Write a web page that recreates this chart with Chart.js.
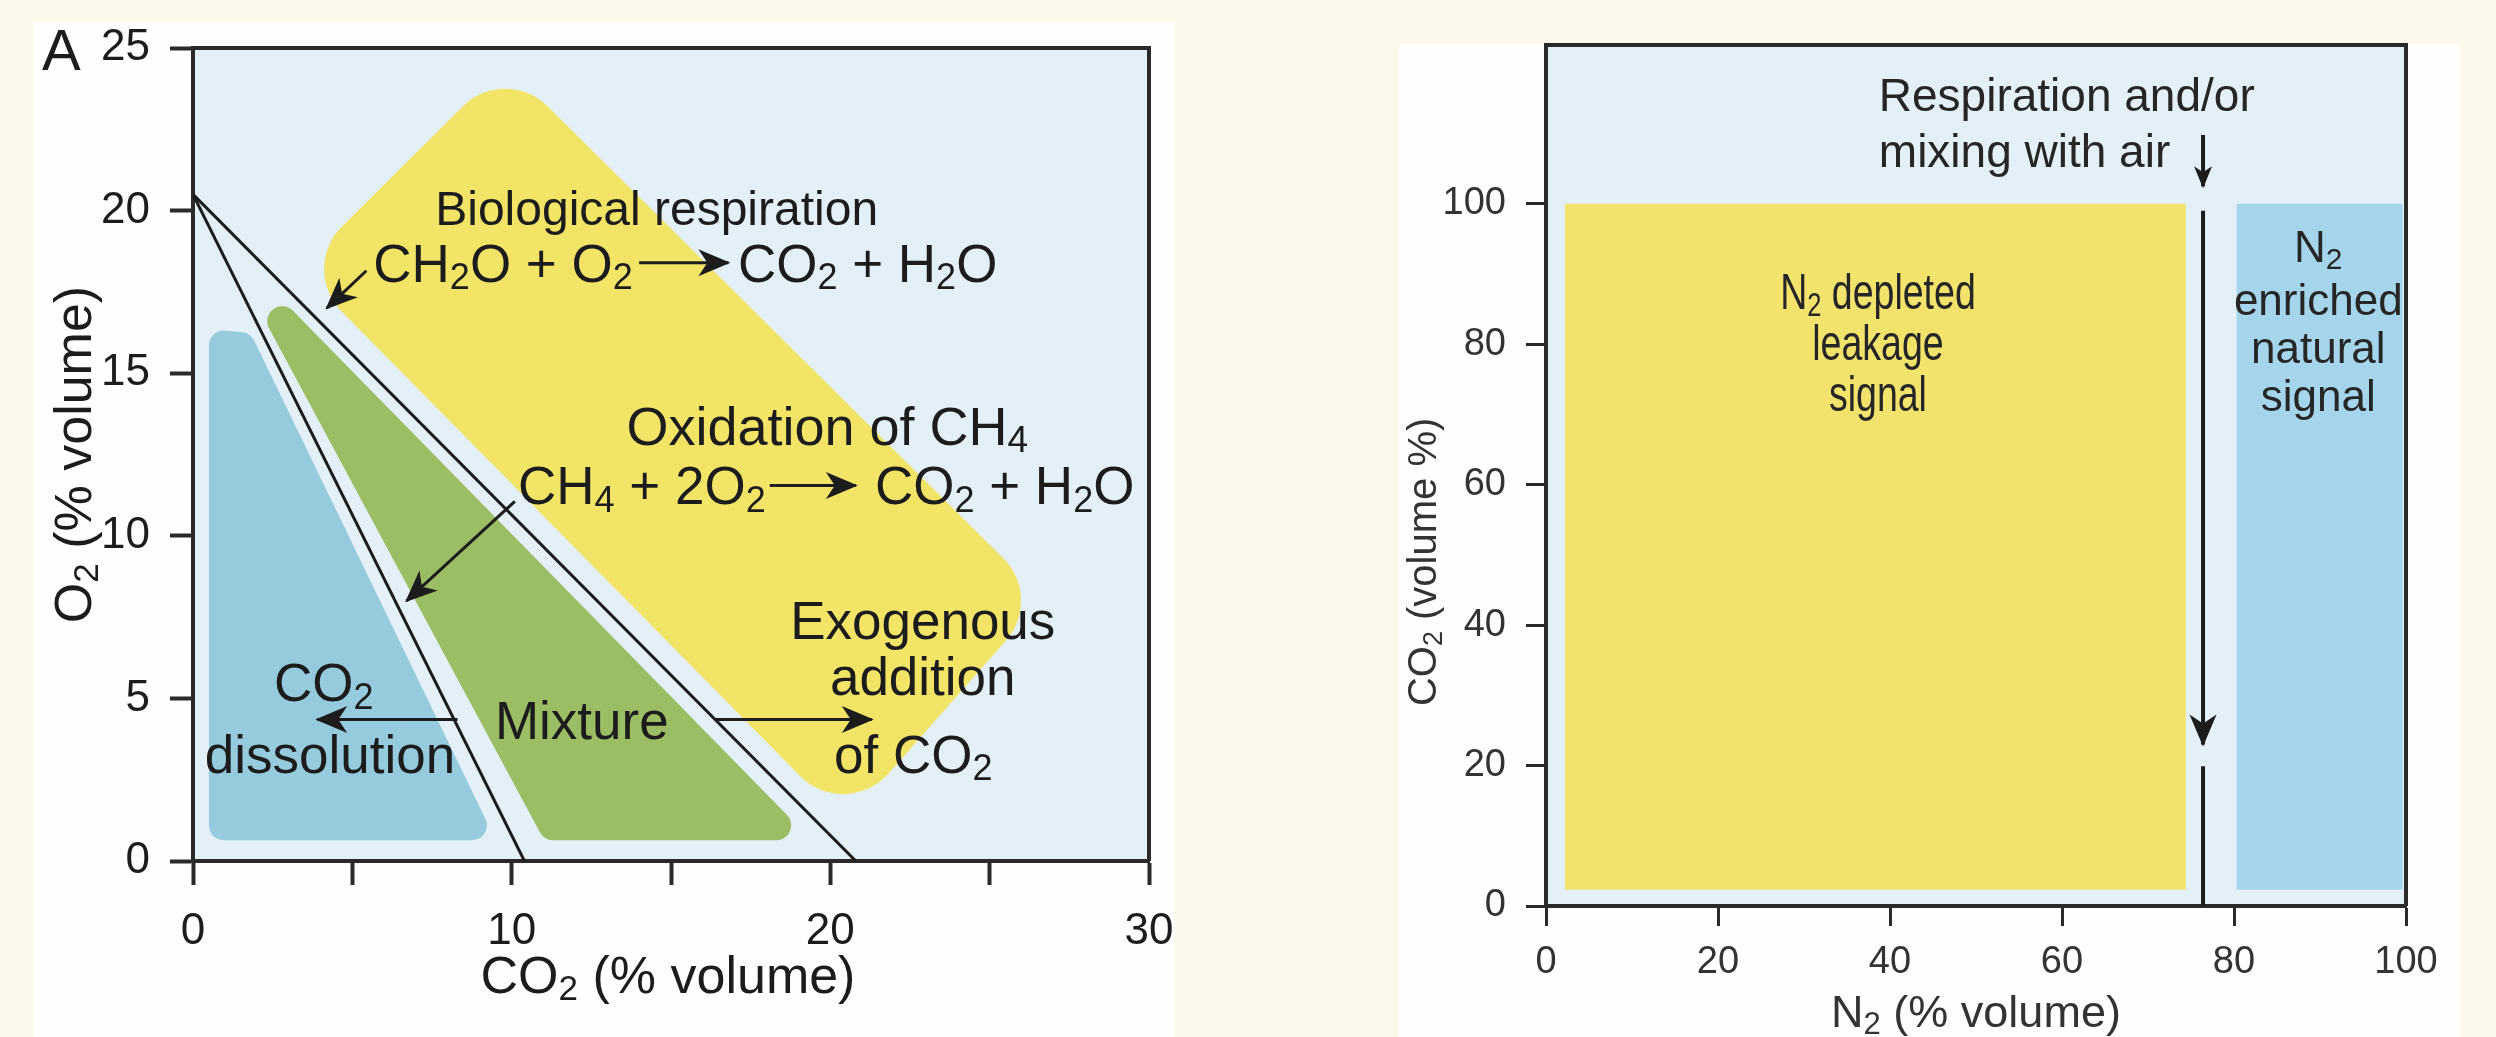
<!DOCTYPE html>
<html>
<head>
<meta charset="utf-8" />
<title>CO2 / O2 / N2 gas ratio diagrams</title>
<style>
  html, body { margin: 0; padding: 0; background: #fdf8ec; }
  body { width: 2496px; height: 1037px; position: relative; overflow: hidden; }
  .panel { position: absolute; background: #fefefd; }
  #panelA { left: 33px; top: 23px; width: 1142px; height: 1014px; }
  #panelB { left: 1399px; top: 44px; width: 1061px; height: 993px; }
  canvas { position: absolute; display: block; }
  #chartA { left: 33px; top: 23px; }
  #chartB { left: 1399px; top: 40px; }
</style>
</head>
<body>

<div class="panel" id="panelA"></div>
<div class="panel" id="panelB"></div>
<canvas id="chartA" width="1142" height="1014"></canvas>
<canvas id="chartB" width="1061" height="997"></canvas>

<script src="https://cdn.jsdelivr.net/npm/chart.js"></script>
<script>
// ---------- Panel A : O2 against CO2 ----------
const co2Range = [0, 30];
const o2Range = [0, 25];

// straight lines from air composition down to the CO2 axis
const dissolutionLine = [[0, 20.5], [10.4, 0]];
const respirationLine = [[0, 20.5], [20.8, 0]];

// corner points of the three fields (corners get rounded by a thick border)
const dissolutionField = [[0.97, 1.1], [0.97, 15.85], [1.5, 15.8], [8.75, 1.1]];
const mixtureField = [[2.8, 16.6], [18.3, 1.1], [11.3, 1.1]];
const exogenousField = [[6.0, 18.2], [9.8, 21.9], [24.1, 8.0], [20.4, 3.9]];

// process arrows, start -> end
const arrowsA = [
  [[5.44, 18.15], [4.2, 17.0]],
  [[10.1, 11.06], [6.7, 8.0]],
  [[8.3, 4.35], [3.9, 4.35]],
  [[16.4, 4.35], [21.3, 4.35]],
  [[14.0, 18.4], [16.8, 18.4]],
  [[18.1, 11.55], [20.8, 11.55]]
];

// text, "_" marks the following character as a subscript
const labelsA = [
  { text: 'Biological respiration', x: 14.55, y: 20.1, size: 48 },
  { text: 'CH_2O + O_2', x: 13.8, y: 18.4, align: 'right' },
  { text: 'CO_2 + H_2O', x: 17.1, y: 18.4, align: 'left' },
  { text: 'Oxidation of CH_4', x: 13.6, y: 13.4, align: 'left', size: 54 },
  { text: 'CH_4 + 2O_2', x: 10.2, y: 11.55, align: 'left' },
  { text: 'CO_2 + H_2O', x: 21.4, y: 11.55, align: 'left' },
  { text: 'Exogenous', x: 22.9, y: 7.4 },
  { text: 'addition', x: 22.9, y: 5.7 },
  { text: 'of CO_2', x: 22.6, y: 3.3 },
  { text: 'Mixture', x: 12.2, y: 4.35 },
  { text: 'CO_2', x: 4.1, y: 5.5 },
  { text: 'dissolution', x: 4.3, y: 3.3 }
];

// ---------- Panel B : CO2 against N2 ----------
const n2Range = [0, 100];
const co2RangeB = [0, 122.6];

const leakageField = [[2.2, 2.3], [2.2, 100], [74.4, 100], [74.4, 2.3]];
const naturalField = [[80.3, 2.3], [80.3, 100], [99.6, 100], [99.6, 2.3]];

const arrowsB = [
  [[76.4, 109.8], [76.4, 102.5]],
  [[76.4, 99], [76.4, 23]]
];
const airLineB = [[76.4, 19.9], [76.4, 0]];

const labelsB = [
  { text: 'Respiration and/or', x: 38.7, y: 115.6, align: 'left' },
  { text: 'mixing with air', x: 38.7, y: 107.6, align: 'left' },
  { text: 'N_2 depleted', x: 38.6, y: 87.6, size: 50, squeeze: 0.75 },
  { text: 'leakage', x: 38.6, y: 80.3, size: 50, squeeze: 0.75 },
  { text: 'signal', x: 38.6, y: 73.1, size: 50, squeeze: 0.75 },
  { text: 'N_2', x: 89.8, y: 93.9, size: 44 },
  { text: 'enriched', x: 89.8, y: 86.4, size: 44 },
  { text: 'natural', x: 89.8, y: 79.6, size: 44 },
  { text: 'signal', x: 89.8, y: 72.8, size: 44 }
];

const FONT = "'Liberation Sans', Arial, sans-serif";
const INK = '#1c1c1c';
const AXIS = '#2a2a2a';

function xy(points) {
  return points.map(p => ({ x: p[0], y: p[1] }));
}

// filled polygon, thick round-joined border of the same colour rounds the corners
function field(points, color, radius) {
  return {
    data: xy(points.concat([points[0]])),
    showLine: true,
    pointRadius: 0,
    fill: 'shape',
    backgroundColor: color,
    borderColor: color,
    borderWidth: radius * 2,
    borderJoinStyle: 'round',
    borderCapStyle: 'round',
    order: 3
  };
}

function segment(points, width, head) {
  return {
    data: xy(points),
    showLine: true,
    pointRadius: 0,
    fill: false,
    borderColor: INK,
    borderWidth: width,
    arrowHead: head || 0,
    order: head ? 1 : 2
  };
}

// draws text with "_x" subscripts, (x, y) is the vertical middle of the capitals
function richText(ctx, text, x, y, align, size, squeeze) {
  const sx = squeeze || 1;
  const parts = [];
  for (let i = 0; i < text.length; i++) {
    if (text[i] === '_' && i + 1 < text.length) {
      parts.push({ s: text[i + 1], sub: true });
      i++;
    } else if (parts.length && !parts[parts.length - 1].sub) {
      parts[parts.length - 1].s += text[i];
    } else {
      parts.push({ s: text[i], sub: false });
    }
  }
  const subSize = Math.round(size * 0.68);
  let total = 0;
  parts.forEach(p => {
    ctx.font = (p.sub ? subSize : size) + 'px ' + FONT;
    p.w = ctx.measureText(p.s).width * sx;
    total += p.w;
  });
  let cx = align === 'left' ? x : align === 'right' ? x - total : x - total / 2;
  const base = y + size * 0.36;
  ctx.textAlign = 'left';
  ctx.textBaseline = 'alphabetic';
  parts.forEach(p => {
    ctx.font = (p.sub ? subSize : size) + 'px ' + FONT;
    ctx.save();
    ctx.translate(cx, p.sub ? base + size * 0.14 : base);
    ctx.scale(sx, 1);
    ctx.fillText(p.s, 0, 0);
    ctx.restore();
    cx += p.w;
  });
}

// plot background + frame on top and right
const framePlugin = {
  id: 'frame',
  beforeDraw(chart) {
    const { ctx, chartArea: a } = chart;
    ctx.save();
    ctx.fillStyle = '#e4f0f7';
    ctx.fillRect(a.left, a.top, a.width, a.height);
    ctx.restore();
  },
  afterDraw(chart) {
    const { ctx, chartArea: a } = chart;
    ctx.save();
    ctx.strokeStyle = AXIS;
    ctx.lineWidth = 4;
    ctx.beginPath();
    ctx.moveTo(a.left, a.top);
    ctx.lineTo(a.right, a.top);
    ctx.lineTo(a.right, a.bottom);
    ctx.stroke();
    ctx.restore();
  }
};

// arrow heads at the last point of every dataset flagged with arrowHead
const arrowPlugin = {
  id: 'arrowHeads',
  afterDatasetsDraw(chart) {
    const ctx = chart.ctx;
    chart.data.datasets.forEach((ds, i) => {
      if (!ds.arrowHead) return;
      const pts = chart.getDatasetMeta(i).data;
      const a = pts[pts.length - 2], b = pts[pts.length - 1];
      const ang = Math.atan2(b.y - a.y, b.x - a.x);
      const L = ds.arrowHead, W = L * 0.45;
      ctx.save();
      ctx.translate(b.x, b.y);
      ctx.rotate(ang);
      ctx.beginPath();
      ctx.moveTo(2, 0);
      ctx.lineTo(-L, -W);
      ctx.lineTo(-L * 0.7, 0);
      ctx.lineTo(-L, W);
      ctx.closePath();
      ctx.fillStyle = ds.borderColor;
      ctx.fill();
      ctx.restore();
    });
  }
};

// annotation text and axis titles
function textPlugin(items, size, color, titles) {
  return {
    id: 'texts',
    afterDraw(chart) {
      const { ctx, chartArea: a, scales: { x, y } } = chart;
      ctx.save();
      ctx.fillStyle = color;
      items.forEach(l => {
        richText(ctx, l.text, x.getPixelForValue(l.x), y.getPixelForValue(l.y),
          l.align || 'center', l.size || size, l.squeeze);
      });
      titles(chart, ctx, a);
      ctx.restore();
    }
  };
}

// keep the plot area exactly where the layout padding puts it
function fixBox(size, isX) {
  return s => {
    if (isX) s.height = size; else s.width = size;
    s.paddingTop = s.paddingBottom = s.paddingLeft = s.paddingRight = 0;
  };
}

// ----- chart A -----
new Chart(document.getElementById('chartA'), {
  type: 'scatter',
  data: {
    datasets: [
      ...arrowsA.map(a => segment(a, 3, 30)),
      segment(dissolutionLine, 3),
      segment(respirationLine, 3),
      field(exogenousField, '#f2e466', 60),
      field(mixtureField, '#9bbe65', 15),
      field(dissolutionField, '#96cadd', 15)
    ]
  },
  options: {
    responsive: false,
    animation: false,
    events: [],
    layout: { padding: { left: 0, right: 26, top: 25, bottom: 0 } },
    plugins: { legend: { display: false }, tooltip: { enabled: false } },
    scales: {
      x: {
        type: 'linear', min: co2Range[0], max: co2Range[1],
        afterFit: fixBox(176, true),
        ticks: {
          stepSize: 5, autoSkip: false, maxRotation: 0, padding: 20,
          color: INK, font: { family: FONT, size: 44 },
          callback: v => (v % 10 === 0 ? String(v) : '')
        },
        grid: { drawOnChartArea: false, tickLength: 24, tickWidth: 4, tickColor: AXIS },
        border: { display: true, width: 4, color: AXIS }
      },
      y: {
        type: 'linear', min: o2Range[0], max: o2Range[1],
        afterFit: fixBox(160, false),
        ticks: {
          stepSize: 5, autoSkip: false, padding: 20,
          color: INK, font: { family: FONT, size: 44 }
        },
        grid: { drawOnChartArea: false, tickLength: 23, tickWidth: 4, tickColor: AXIS },
        border: { display: true, width: 4, color: AXIS }
      }
    }
  },
  plugins: [framePlugin, arrowPlugin, textPlugin(labelsA, 53, INK, (chart, ctx, a) => {
    richText(ctx, 'CO_2 (% volume)', (a.left + a.right) / 2 - 3, a.bottom + 113, 'center', 52);
    ctx.save();
    ctx.translate(a.left - 121, (a.top + a.bottom) / 2);
    ctx.rotate(-Math.PI / 2);
    richText(ctx, 'O_2 (% volume)', 0, 0, 'center', 52);
    ctx.restore();
    ctx.font = '58px ' + FONT;
    ctx.textAlign = 'left';
    ctx.textBaseline = 'alphabetic';
    ctx.fillText('A', a.left - 151, a.top + 22);
  })]
});

// ----- chart B -----
new Chart(document.getElementById('chartB'), {
  type: 'scatter',
  data: {
    datasets: [
      ...arrowsB.map((a, i) => segment(a, 4, i === 0 ? 20 : 30)),
      segment(airLineB, 4),
      field(leakageField, '#f1e36c', 0),
      field(naturalField, '#a5d5ea', 0)
    ]
  },
  options: {
    responsive: false,
    animation: false,
    events: [],
    layout: { padding: { left: 0, right: 54, top: 5, bottom: 0 } },
    plugins: { legend: { display: false }, tooltip: { enabled: false } },
    scales: {
      x: {
        type: 'linear', min: n2Range[0], max: n2Range[1],
        afterFit: fixBox(131, true),
        ticks: {
          stepSize: 20, autoSkip: false, maxRotation: 0, padding: 14,
          color: '#333', font: { family: FONT, size: 38 }
        },
        grid: { drawOnChartArea: false, tickLength: 20, tickWidth: 3, tickColor: AXIS },
        border: { display: true, width: 4, color: AXIS }
      },
      y: {
        type: 'linear', min: co2RangeB[0], max: co2RangeB[1],
        afterFit: fixBox(147, false),
        ticks: {
          stepSize: 20, autoSkip: false, padding: 20,
          color: '#333', font: { family: FONT, size: 38 },
          callback: v => (v > 100 ? null : String(v))
        },
        grid: { drawOnChartArea: false, tickLength: 20, tickWidth: 3, tickColor: AXIS },
        border: { display: true, width: 4, color: AXIS }
      }
    }
  },
  plugins: [framePlugin, arrowPlugin, textPlugin(labelsB, 46, '#262626', (chart, ctx, a) => {
    ctx.fillStyle = '#333';
    richText(ctx, 'N_2 (% volume)', (a.left + a.right) / 2, a.bottom + 105, 'center', 45);
    // y axis title sits a little below the middle of the axis
    ctx.save();
    ctx.translate(a.left - 124, chart.scales.y.getPixelForValue(49));
    ctx.rotate(-Math.PI / 2);
    richText(ctx, 'CO_2 (volume %)', 0, 0, 'center', 40);
    ctx.restore();
  })]
});
</script>
</body>
</html>
